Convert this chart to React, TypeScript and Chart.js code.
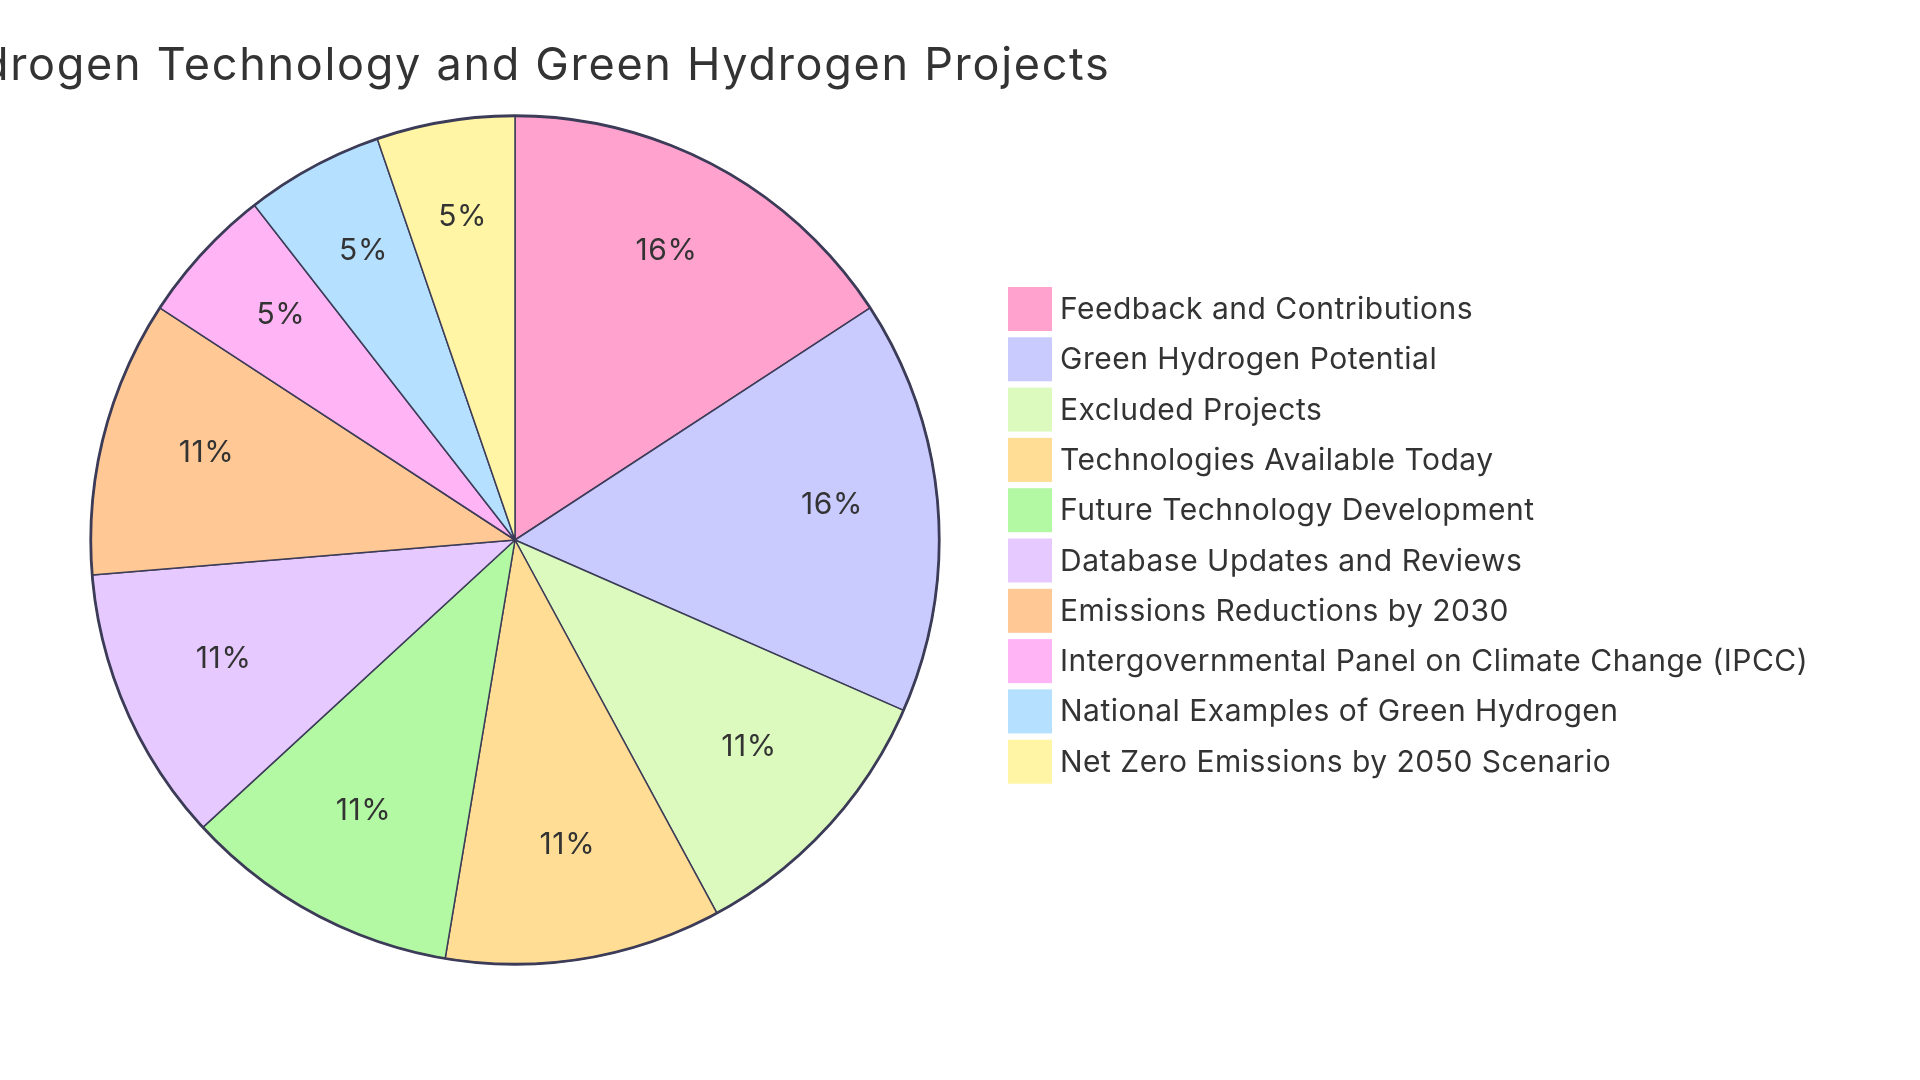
import React, { useEffect, useRef } from "react";
import { Chart, registerables } from "chart.js";

Chart.register(...registerables);

const titleText = "Hydrogen Technology and Green Hydrogen Projects";
const categories = [
  "Feedback and Contributions",
  "Green Hydrogen Potential",
  "Excluded Projects",
  "Technologies Available Today",
  "Future Technology Development",
  "Database Updates and Reviews",
  "Emissions Reductions by 2030",
  "Intergovernmental Panel on Climate Change (IPCC)",
  "National Examples of Green Hydrogen",
  "Net Zero Emissions by 2050 Scenario",
];
const values = [3, 3, 2, 2, 2, 2, 2, 1, 1, 1];
const colors = [
  "#FFA3CE",
  "#C9CBFF",
  "#DCFABE",
  "#FFDD94",
  "#B3F8A2",
  "#E6CAFF",
  "#FFC894",
  "#FFB5F5",
  "#B5E0FF",
  "#FFF5A5",
];

const FONT = "Inter, 'Noto Sans', sans-serif";
const TEXT = "#333333";
const STROKE = "#3c3c58";

const overlay = {
  id: "overlay",
  afterDatasetsDraw(chart: any) {
    const ctx = chart.ctx as any;
    const meta = chart.getDatasetMeta(0);
    const arcs = meta.data as any[];
    if (!arcs.length) return;
    const cx = arcs[0].x;
    const cy = arcs[0].y;
    const r = arcs[0].outerRadius;
    const total = values.reduce((a, b) => a + b, 0);

    ctx.save();
    // outer ring
    ctx.beginPath();
    ctx.arc(cx, cy, r, 0, Math.PI * 2);
    ctx.lineWidth = 2.8;
    ctx.strokeStyle = STROKE;
    ctx.stroke();

    // percent labels
    ctx.fillStyle = TEXT;
    ctx.font = `30px ${FONT}`;
    ctx.letterSpacing = "0.6px";
    ctx.textAlign = "center";
    ctx.textBaseline = "alphabetic";
    arcs.forEach((arc, i) => {
      const mid = (arc.startAngle + arc.endAngle) / 2;
      const lr = r * 0.75;
      const x = cx + Math.cos(mid) * lr;
      const y = cy + Math.sin(mid) * lr;
      const pct = Math.round((values[i] / total) * 100);
      ctx.fillText(`${pct}%`, x, y);
    });

    // title
    ctx.font = `45px ${FONT}`;
    ctx.letterSpacing = "1.7px";
    ctx.textAlign = "center";
    ctx.fillText(titleText, cx, 80);

    // legend
    const lx = 1008;
    const ly = 287;
    const step = 50.3;
    const box = 44;
    ctx.font = `30px ${FONT}`;
    ctx.letterSpacing = "0.5px";
    ctx.textAlign = "left";
    categories.forEach((c, i) => {
      const y = ly + i * step;
      ctx.fillStyle = colors[i];
      ctx.fillRect(lx, y, box, box);
      ctx.fillStyle = TEXT;
      ctx.fillText(c, lx + 52, y + 32);
    });
    ctx.restore();
  },
};

export default function App() {
  const ref = useRef<HTMLCanvasElement | null>(null);
  useEffect(() => {
    if (!ref.current) return;
    const chart = new Chart(ref.current, {
      type: "pie",
      data: {
        labels: categories,
        datasets: [
          {
            data: values,
            backgroundColor: colors,
            borderColor: STROKE,
            borderWidth: 1.5,
            hoverOffset: 0,
          },
        ],
      },
      options: {
        responsive: false,
        animation: false,
        layout: { padding: { left: 90, right: 980, top: 115, bottom: 115 } },
        plugins: {
          legend: { display: false },
          title: { display: false },
          tooltip: { enabled: false },
        },
      },
      plugins: [overlay],
    });
    return () => chart.destroy();
  }, []);
  return (
    <div style={{ position: "absolute", left: 0, top: 0, width: 1920, height: 1080, background: "#fff" }}>
      <canvas ref={ref} width={1920} height={1080} style={{ width: 1920, height: 1080 }} />
    </div>
  );
}
